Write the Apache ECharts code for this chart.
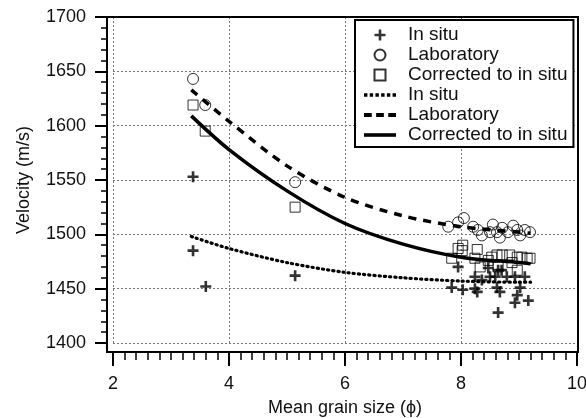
<!DOCTYPE html>
<html>
<head>
<meta charset="utf-8">
<script src="https://cdn.jsdelivr.net/npm/echarts@6/dist/echarts.min.js"></script>
<style>
  html, body { margin: 0; padding: 0; background: #fff; }
  #main-chart { width: 586px; height: 418px; }
</style>
</head>
<body>
<div id="main-chart"></div>
<script>
// measured points: [mean grain size (phi), velocity (m/s)]
const inSituPts = [
  [3.38, 1553], [3.38, 1485], [3.6, 1452], [5.14, 1462],
  [7.84, 1451], [7.95, 1470], [8.03, 1449], [8.24, 1461], [8.24, 1450], [8.28, 1447],
  [8.36, 1458], [8.47, 1469], [8.5, 1461], [8.59, 1461], [8.64, 1467], [8.62, 1451],
  [8.67, 1447], [8.64, 1428], [8.7, 1467], [8.79, 1461], [8.93, 1461], [9.02, 1451],
  [8.97, 1444], [8.93, 1437], [9.1, 1461], [9.16, 1439]
]
const labPts = [
  [3.38, 1643], [3.59, 1619], [5.14, 1548],
  [7.78, 1507], [7.95, 1511], [8.05, 1515], [8.21, 1507], [8.29, 1504], [8.36, 1499],
  [8.5, 1502], [8.55, 1509], [8.62, 1502], [8.67, 1497], [8.71, 1506], [8.81, 1502],
  [8.9, 1508], [8.97, 1504], [9.02, 1499], [9.1, 1504], [9.19, 1502]
]
const correctedPts = [
  [3.38, 1619], [3.59, 1595], [5.14, 1525],
  [7.84, 1478], [7.95, 1487], [8.03, 1490], [8.02, 1485], [8.28, 1486], [8.24, 1478],
  [8.33, 1470], [8.47, 1476], [8.53, 1479], [8.62, 1481], [8.64, 1470], [8.71, 1481],
  [8.84, 1481], [8.88, 1474], [8.97, 1479], [8.97, 1467], [9.05, 1479], [9.14, 1478],
  [9.19, 1478]
]

// regression curves
const curveX = [3.35, 4, 5, 6, 7, 8, 9, 9.2]
const inSituCurve = [1498, 1487, 1474, 1465, 1460, 1457, 1456, 1456]
const labCurve = [1633, 1604, 1563, 1534, 1517, 1507, 1502, 1501]
const correctedCurve = [1609, 1578, 1540, 1510, 1491, 1479, 1474, 1473]

const xTicks = [2, 4, 6, 8, 10]
const yTicks = [1400, 1450, 1500, 1550, 1600, 1650, 1700]

const zip = (xs, ys) => xs.map((x, i) => [x, ys[i]])

const G = { left: 113, right: 9, top: 17, bottom: 75 }
const W = 586, H = 418
const plusIcon = 'path://M3.8,0H6.2V3.8H10V6.2H6.2V10H3.8V6.2H0V3.8H3.8Z'
const squareIcon = 'path://M0,0H10V10H0Z'
// legend icons for the fitted curves
const dotIcon = 'path://M0,0h3v3h-3z M5,0h3v3h-3z M10,0h3v3h-3z M15,0h3v3h-3z M20,0h3v3h-3z M25,0h3v3h-3z'
const dashIcon = 'path://M0,0h7v3.4h-7z M11,0h7v3.4h-7z M22,0h7v3.4h-7z'
const solidIcon = 'path://M0,0h32v3.6h-32z'
const font = 'Liberation Sans, Arial, sans-serif'

const myChart = echarts.init(document.getElementById('main-chart'), null, { renderer: 'canvas' })

const option = {
  animation: false,
  backgroundColor: '#fff',
  textStyle: { fontFamily: font, color: '#111' },
  grid: { left: G.left, right: G.right, top: G.top, bottom: G.bottom, containLabel: false, outerBoundsMode: 'none' },
  graphic: [{
    type: 'rect',
    z: 100,
    shape: {
      x: G.left - 6,
      y: G.top,
      width: (W - G.right) - (G.left - 6) + 1,
      height: (H - G.bottom + 9) - G.top
    },
    style: { fill: 'none', stroke: '#000', lineWidth: 2 }
  }],
  legend: {
    orient: 'vertical',
    left: 355,
    top: 20,
    padding: [5, 6, 2, 9],
    itemGap: 0,
    itemWidth: 32,
    itemHeight: 11,
    symbolKeepAspect: true,
    borderColor: '#000',
    borderWidth: 2,
    backgroundColor: '#fff',
    z: 120,
    textStyle: { fontFamily: font, fontSize: 19, lineHeight: 20, color: '#111', padding: [0, 0, 0, 7] },
    data: [
      { name: 'In situ' },
      { name: 'Laboratory' },
      { name: 'Corrected to in situ', icon: squareIcon },
      { name: 'In situ ', icon: dotIcon, itemStyle: { color: '#000', borderWidth: 0 } },
      { name: 'Laboratory ', icon: dashIcon, itemStyle: { color: '#000', borderWidth: 0 } },
      { name: 'Corrected to in situ ', icon: solidIcon, itemStyle: { color: '#000', borderWidth: 0 } }
    ],
    formatter: name => name.trim()
  },
  xAxis: {
    type: 'value',
    min: 2,
    max: 10,
    interval: 2,
    offset: 9,
    name: 'Mean grain size (ϕ)',
    nameLocation: 'middle',
    nameGap: 47,
    nameTextStyle: { fontFamily: font, fontSize: 18, color: '#111' },
    axisLine: { show: false },
    axisTick: { show: true, length: 14, lineStyle: { color: '#000', width: 2 } },
    minorTick: { show: true, splitNumber: 10, length: 8, lineStyle: { color: '#000', width: 1.5 } },
    axisLabel: { fontFamily: font, fontSize: 18, color: '#111', margin: 23,
      formatter: v => xTicks.includes(v) ? String(v) : '' },
    splitLine: { show: true, lineStyle: { color: '#777', width: 1, type: [2, 2] } }
  },
  yAxis: {
    type: 'value',
    min: 1400,
    max: 1700,
    interval: 50,
    offset: 6,
    name: 'Velocity (m/s)',
    nameLocation: 'middle',
    nameGap: 74,
    nameTextStyle: { fontFamily: font, fontSize: 18, color: '#111' },
    axisLine: { show: false },
    axisTick: { show: true, length: 12, lineStyle: { color: '#000', width: 2 } },
    minorTick: { show: true, splitNumber: 5, length: 6, lineStyle: { color: '#000', width: 1.5 } },
    axisLabel: { fontFamily: font, fontSize: 18, color: '#111', margin: 21,
      formatter: v => yTicks.includes(v) ? String(v) : '' },
    splitLine: { show: true, lineStyle: { color: '#777', width: 1, type: [2, 2] } }
  },
  series: [
    {
      name: 'In situ',
      type: 'scatter',
      symbol: plusIcon,
      symbolSize: 11,
      symbolKeepAspect: true,
      itemStyle: { color: '#000' },
      data: inSituPts
    },
    {
      name: 'Laboratory',
      type: 'scatter',
      symbol: 'circle',
      symbolSize: 11,
      symbolKeepAspect: true,
      itemStyle: { color: 'rgba(255,255,255,0)', borderColor: '#000', borderWidth: 1 },
      data: labPts
    },
    {
      name: 'Corrected to in situ',
      type: 'scatter',
      symbol: 'rect',
      symbolSize: 10,
      symbolKeepAspect: true,
      itemStyle: { color: 'rgba(255,255,255,0)', borderColor: '#000', borderWidth: 1 },
      data: correctedPts
    },
    {
      name: 'In situ ',
      type: 'line',
      smooth: 0.3,
      symbol: 'none',
      lineStyle: { color: '#000', width: 3.2, type: [1.2, 4], cap: 'round' },
      itemStyle: { color: '#000' },
      data: zip(curveX, inSituCurve)
    },
    {
      name: 'Laboratory ',
      type: 'line',
      smooth: 0.3,
      symbol: 'none',
      lineStyle: { color: '#000', width: 3.5, type: [8, 7] },
      itemStyle: { color: '#000' },
      data: zip(curveX, labCurve)
    },
    {
      name: 'Corrected to in situ ',
      type: 'line',
      smooth: 0.3,
      symbol: 'none',
      lineStyle: { color: '#000', width: 3.5 },
      itemStyle: { color: '#000' },
      data: zip(curveX, correctedCurve)
    }
  ]
}

myChart.setOption(option)

window.addEventListener('resize', function () {
  myChart.resize()
})
</script>
</body>
</html>
